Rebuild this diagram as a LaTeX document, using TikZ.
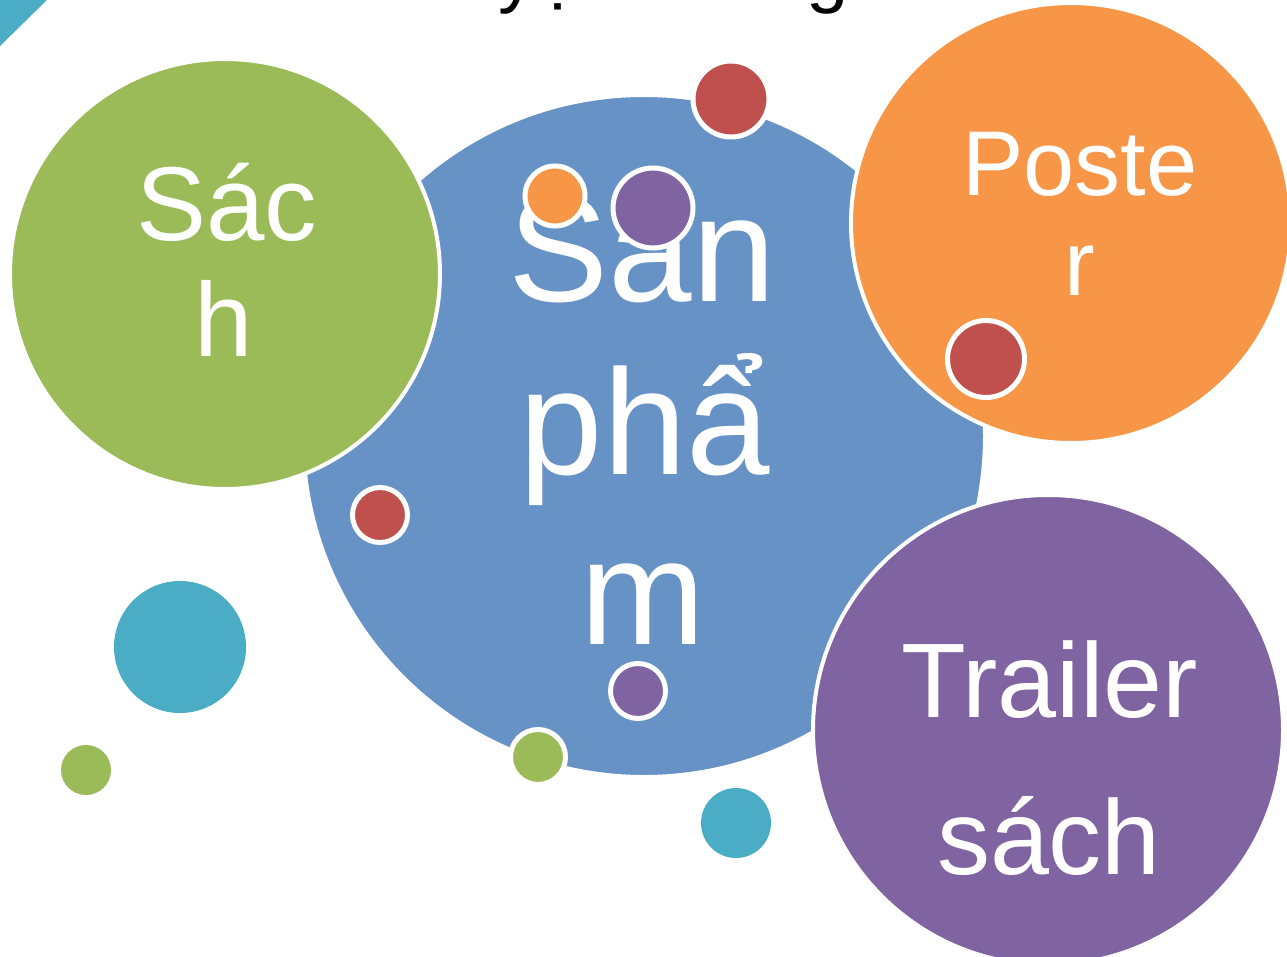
\documentclass[tikz,border=0pt]{standalone}
\usepackage{fontspec}
\setmainfont{Liberation Sans}
\usepackage{tikz}
\usetikzlibrary{positioning}
\definecolor{sbBlue}{RGB}{103,146,198}
\definecolor{sbGreen}{RGB}{155,187,89}
\definecolor{sbOrange}{RGB}{247,150,70}
\definecolor{sbPurple}{RGB}{128,100,162}
\definecolor{sbRed}{RGB}{192,80,77}
\definecolor{sbTeal}{RGB}{75,172,198}

\begin{document}
\begin{tikzpicture}[x=1pt,y=-1pt,
    bigdot/.style={fill=#1,draw=white,line width=4pt},
    ringdot/.style={fill=#1,draw=white,line width=5pt},
    plaindot/.style={fill=#1},
    word/.style={text=white,inner sep=0pt,anchor=base}]
    \useasboundingbox (0,0) rectangle (1287,957);
    \clip (0,0) rectangle (1287,957);

    \fill[sbTeal] (0,0) -- (47,0) -- (0,46) -- cycle;
    \node[anchor=base west,inner sep=0pt,font=\fontsize{76}{80}\selectfont] (title) at (387,-1) {Truyện tương tác};

    % big circles
    \filldraw[bigdot=sbBlue] (644,436) circle[radius=341pt];
    \filldraw[bigdot=sbGreen] (225,274) circle[radius=215pt];
    \filldraw[bigdot=sbOrange] (1071,223) circle[radius=220pt];
    \filldraw[bigdot=sbPurple] (1048,730) circle[radius=235pt];

    \node[word,font=\fontsize{150}{160}\selectfont] (sanpham1) at (642,302) {Sản};
    \node[word,font=\fontsize{150}{160}\selectfont] (sanpham2) at (645,474) {phẩ};
    \node[word,font=\fontsize{150}{160}\selectfont] (sanpham3) at (643,644) {m};

    \node[word,font=\fontsize{105}{114}\selectfont] (sach1) at (227,241) {Sác};
    \node[word,font=\fontsize{105}{114}\selectfont] (sach2) at (224,356) {h};

    \node[word,font=\fontsize{92}{100}\selectfont] (poster1) at (1080,196) {Poste};
    \node[word,font=\fontsize{92}{100}\selectfont] (poster2) at (1080,296) {r};

    \node[word,font=\fontsize{106}{157}\selectfont] (trailer1) at (1050,717) {Trailer};
    \node[word,font=\fontsize{106}{157}\selectfont] (trailer2) at (1049,874) {sách};

    % small dots
    \foreach \cx/\cy/\r/\col in {731/99/38/sbRed, 555/196/30/sbOrange, 653/208/40/sbPurple,
        986/359/38.5/sbRed, 380/515/27.5/sbRed, 638/691/27.5/sbPurple, 538/757/27.5/sbGreen}
    {
        \filldraw[ringdot=\col] (\cx,\cy) circle[radius=\r pt];
    }
    \foreach \cx/\cy/\r/\col in {180/647/66/sbTeal, 86/770/25/sbGreen, 736/823/35/sbTeal}
        \fill[plaindot=\col] (\cx,\cy) circle[radius=\r pt];
\end{tikzpicture}
\end{document}
